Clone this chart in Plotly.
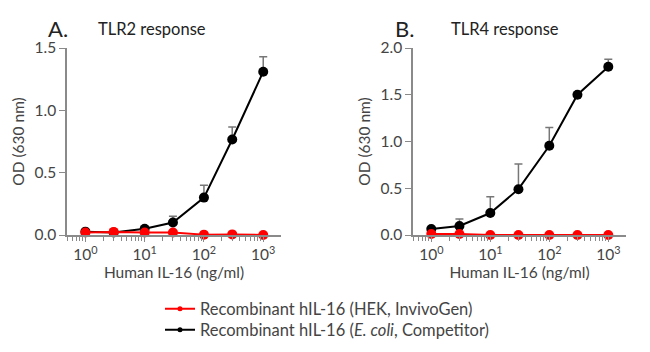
import plotly.graph_objects as go

# Data
conc = [1, 3, 10, 30, 100, 300, 1000]

a_black = [0.027, 0.02, 0.05, 0.10, 0.30, 0.766, 1.31]
a_black_err = [0.0, 0.0, 0.0, 0.05, 0.10, 0.10, 0.12]
a_red = [0.02, 0.025, 0.02, 0.02, 0.003, 0.005, 0.0]

b_black = [0.064, 0.096, 0.235, 0.49, 0.955, 1.50, 1.80]
b_black_err = [0.0, 0.075, 0.175, 0.27, 0.195, 0.0, 0.08]
b_red = [0.01, 0.01, 0.0, 0.0, 0.0, 0.0, 0.0]

tick_x = [1, 10, 100, 1000]
tick_x_text = ["10<sup>0</sup>", "10<sup>1</sup>", "10<sup>2</sup>", "10<sup>3</sup>"]
a_yticks = [0, 0.5, 1.0, 1.5]
b_yticks = [0, 0.5, 1.0, 1.5, 2.0]

legend_red = "Recombinant hIL-16 (HEK, InvivoGen)"
legend_black = "Recombinant hIL-16 (<i>E. coli</i>, Competitor)"

RED = "#ff0000"
BLACK = "#000000"
AXC = "#8a8a8a"
TXT = "#444444"
FONT = "Lato"

W, H = 650, 352

fig = go.Figure()

def add_panel(xa, ya, black, black_err, red):
    fig.add_trace(go.Scatter(
        x=conc, y=black, mode="lines+markers", xaxis=xa, yaxis=ya,
        line=dict(color=BLACK, width=2), marker=dict(color=BLACK, size=10),
        error_y=dict(type="data", array=black_err, arrayminus=[0] * len(black_err),
                     symmetric=False, color="#777777", thickness=1.5, width=4),
        cliponaxis=False, showlegend=False))
    fig.add_trace(go.Scatter(
        x=conc, y=red, mode="lines+markers", xaxis=xa, yaxis=ya,
        line=dict(color=RED, width=2), marker=dict(color=RED, size=10),
        cliponaxis=False, showlegend=False))

add_panel("x", "y", a_black, a_black_err, a_red)
add_panel("x2", "y2", b_black, b_black_err, b_red)

# legend-only entries
fig.add_trace(go.Scatter(x=[None], y=[None], mode="lines+markers", name=legend_red,
                         line=dict(color=RED, width=2), marker=dict(color=RED, size=5),
                         legend="legend"))
fig.add_trace(go.Scatter(x=[None], y=[None], mode="lines+markers", name=legend_black,
                         line=dict(color=BLACK, width=2), marker=dict(color=BLACK, size=5),
                         legend="legend2"))

ydom = [(H - 235) / H, (H - 48) / H]
FS = 15.5

def xaxis(dom):
    return dict(domain=dom, type="log", range=[-0.31, 3.3], tickmode="array",
                tickvals=tick_x, ticktext=tick_x_text, ticks="outside", ticklen=5,
                tickcolor=AXC, showline=True, linecolor=AXC, linewidth=1.5,
                showgrid=False, zeroline=False,
                tickfont=dict(family=FONT, size=FS, color=TXT),
                minor=dict(dtick="D1", ticks="outside", ticklen=4, tickcolor=AXC, showgrid=False),
                title=dict(text="Human IL-16 (ng/ml)", font=dict(family=FONT, size=FS, color=TXT),
                           standoff=3))

def yaxis(rng, tv, anchor):
    return dict(domain=ydom, range=rng, tickmode="array", tickvals=tv,
                tickformat=".1f", ticks="outside", ticklen=6, tickcolor=AXC,
                showline=True, linecolor=AXC, linewidth=1.5, showgrid=False,
                zeroline=False, anchor=anchor,
                tickfont=dict(family=FONT, size=FS, color=TXT),
                title=dict(text="OD (630 nm)", font=dict(family=FONT, size=FS, color=TXT),
                           standoff=6))

leg_common = dict(xanchor="left", yanchor="middle", bgcolor="rgba(0,0,0,0)",
                  font=dict(family=FONT, size=16.5, color=TXT), itemwidth=30)

fig.update_layout(
    width=W, height=H,
    margin=dict(l=0, r=0, t=0, b=0, autoexpand=False),
    paper_bgcolor="white", plot_bgcolor="white",
    font=dict(family=FONT, color=TXT),
    xaxis=dict(xaxis([67 / W, 281 / W]), anchor="y"),
    yaxis=yaxis([0, 1.5], a_yticks, "x"),
    xaxis2=dict(xaxis([413 / W, 626 / W]), anchor="y2"),
    yaxis2=yaxis([0, 2.0], b_yticks, "x2"),
    legend=dict(leg_common, x=160 / W, y=(H - 309) / H),
    legend2=dict(leg_common, x=160 / W, y=(H - 330) / H),
    annotations=[
        dict(text="A.", x=46 / W, y=(H - 28) / H, xref="paper", yref="paper",
             xanchor="left", yanchor="middle", showarrow=False,
             font=dict(family=FONT, size=22, color="#222222")),
        dict(text="TLR2 response", x=96 / W, y=(H - 29) / H, xref="paper", yref="paper",
             xanchor="left", yanchor="middle", showarrow=False,
             font=dict(family=FONT, size=16.5, color="#222222")),
        dict(text="B.", x=393 / W, y=(H - 28) / H, xref="paper", yref="paper",
             xanchor="left", yanchor="middle", showarrow=False,
             font=dict(family=FONT, size=22, color="#222222")),
        dict(text="TLR4 response", x=449 / W, y=(H - 29) / H, xref="paper", yref="paper",
             xanchor="left", yanchor="middle", showarrow=False,
             font=dict(family=FONT, size=16.5, color="#222222")),
    ],
)

fig.write_html("out.html")
